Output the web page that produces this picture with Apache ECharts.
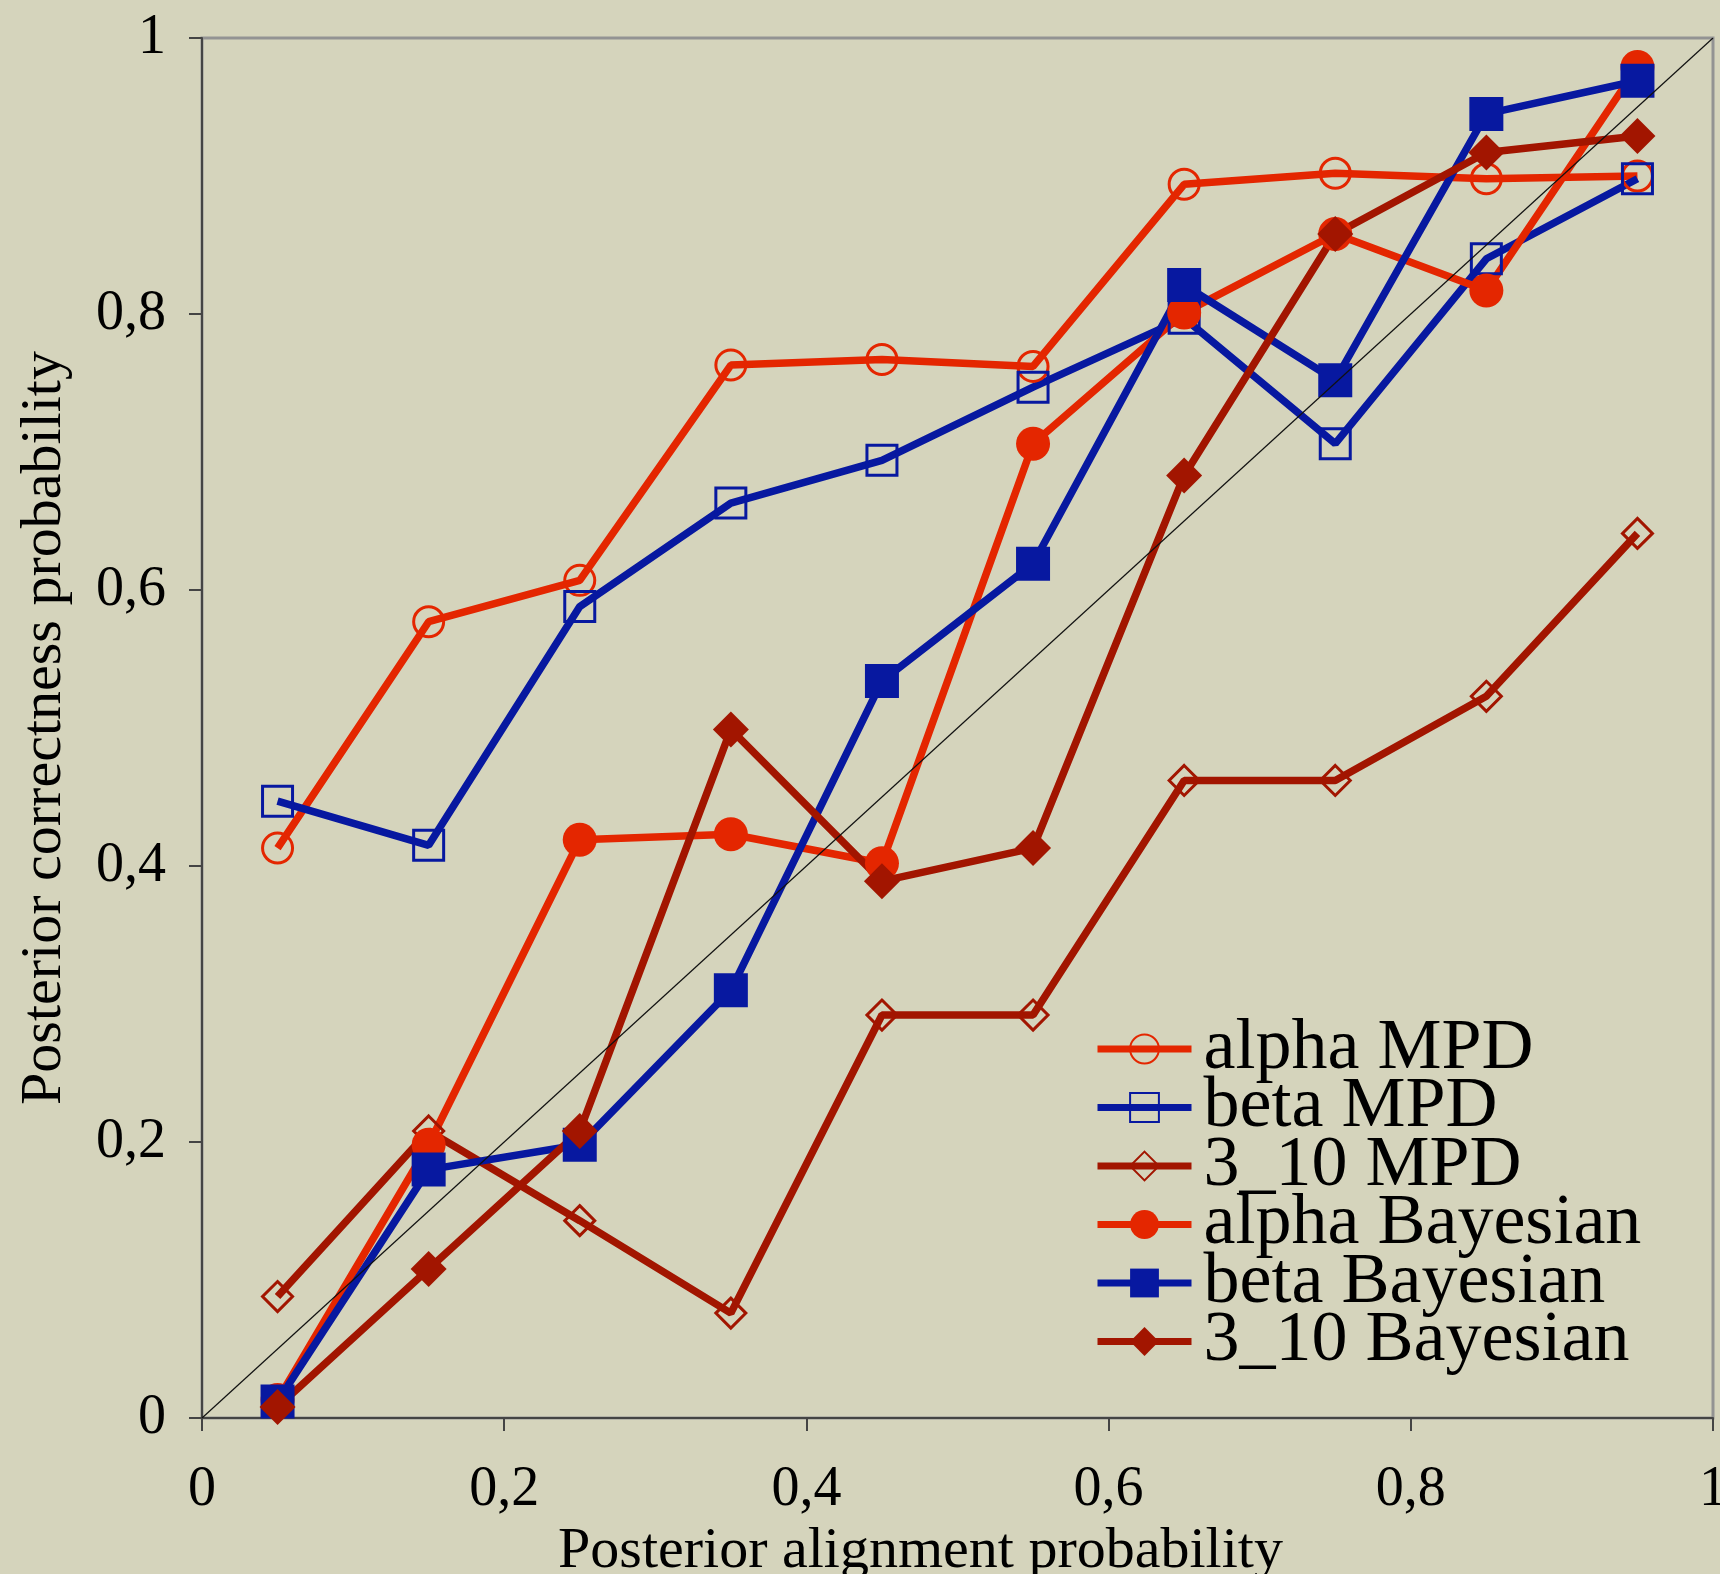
<!DOCTYPE html>
<html>
<head>
<meta charset="utf-8">
<script src="https://cdn.jsdelivr.net/npm/echarts@6/dist/echarts.min.js"></script>
<style>
html,body{margin:0;padding:0;background:#d5d4bc;}
#chart{width:1720px;height:1574px;}
</style>
</head>
<body>
<div id="chart"></div>
<script>
const xValues = [0.05, 0.15, 0.25, 0.35, 0.45, 0.55, 0.65, 0.75, 0.85, 0.95];
const alphaMPD = [0.413, 0.577, 0.607, 0.763, 0.767, 0.762, 0.894, 0.902, 0.898, 0.900];
const betaMPD = [0.447, 0.415, 0.588, 0.663, 0.694, 0.747, 0.797, 0.706, 0.840, 0.898];
const t310MPD = [0.088, 0.208, 0.143, 0.076, 0.292, 0.292, 0.462, 0.462, 0.523, 0.641];
const alphaBayes = [0.013, 0.198, 0.419, 0.423, 0.402, 0.706, 0.801, 0.858, 0.817, 0.979];
const betaBayes = [0.012, 0.180, 0.198, 0.310, 0.534, 0.619, 0.821, 0.752, 0.945, 0.969];
const t310Bayes = [0.008, 0.108, 0.208, 0.499, 0.389, 0.413, 0.683, 0.858, 0.917, 0.929];
const diagonalX = [0, 1];
const diagonalY = [0, 1];
const seriesNames = ['alpha MPD', 'beta MPD', '3_10 MPD', 'alpha Bayesian', 'beta Bayesian', '3_10 Bayesian'];
const tickValues = [0, 0.2, 0.4, 0.6, 0.8, 1];

const RED = '#e42600', BLUE = '#0718a0', DARK = '#a21500';
const FONT = '"Liberation Serif", "Times New Roman", serif';
const pairs = ys => xValues.map((x, i) => [x, ys[i]]);
const fmt = v => String(Math.round(v * 10) / 10).replace('.', ',');

function makeSeries(name, ys, color, symbol, size, open) {
  return {
    name, type: 'line', data: pairs(ys), symbol, symbolSize: size,
    showAllSymbol: true,
    lineStyle: { color, width: 7.5 },
    itemStyle: open ? { color: 'rgba(0,0,0,0)', borderColor: color, borderWidth: 3 } : { color, borderWidth: 0 },
    emphasis: { disabled: true }, silent: true, animation: false
  };
}

const chart = echarts.init(document.getElementById('chart'), null, { renderer: 'canvas' });
chart.setOption({
  backgroundColor: '#d5d4bc',
  animation: false,
  grid: { left: 202, top: 38, right: 7, bottom: 156, show: true, borderColor: '#939393', borderWidth: 3, backgroundColor: 'transparent', containLabel: false, outerBoundsMode: 'none' },
  xAxis: {
    type: 'value', min: 0, max: 1, interval: 0.2,
    name: 'Posterior alignment probability', nameLocation: 'middle', nameGap: 94,
    nameTextStyle: { fontFamily: FONT, fontSize: 58, color: '#000', padding: [0, 74, 0, 0] },
    axisLine: { show: true, lineStyle: { color: '#444', width: 2 } },
    axisTick: { show: true, inside: false, length: 13, lineStyle: { color: '#444', width: 2 } },
    axisLabel: { margin: 44, fontFamily: FONT, fontSize: 56, color: '#000', formatter: fmt, showMaxLabel: true, showMinLabel: true },
    splitLine: { show: false }
  },
  yAxis: {
    type: 'value', min: 0, max: 1, interval: 0.2,
    name: 'Posterior correctness probability', nameLocation: 'middle', nameGap: 128, nameRotate: 90,
    nameTextStyle: { fontFamily: FONT, fontSize: 58, color: '#000' },
    axisLine: { show: true, lineStyle: { color: '#444', width: 2 } },
    axisTick: { show: true, inside: false, length: 13, lineStyle: { color: '#444', width: 2 } },
    axisLabel: { margin: 36, fontFamily: FONT, fontSize: 56, color: '#000', formatter: fmt },
    splitLine: { show: false }
  },
  legend: {
    data: seriesNames, orient: 'vertical', left: 1094, top: 1013, padding: 0,
    itemWidth: 94, itemHeight: 36, itemGap: -13.5,
    lineStyle: { width: 7 },
    textStyle: { fontFamily: FONT, fontSize: 72, color: '#000', lineHeight: 58, padding: [0, 0, 0, 7] },
    selectedMode: false, backgroundColor: 'transparent'
  },
  series: [
    makeSeries(seriesNames[0], alphaMPD, RED, 'circle', 30, true),
    makeSeries(seriesNames[1], betaMPD, BLUE, 'rect', 30, true),
    makeSeries(seriesNames[2], t310MPD, DARK, 'diamond', 30, true),
    makeSeries(seriesNames[3], alphaBayes, RED, 'circle', 34, false),
    makeSeries(seriesNames[4], betaBayes, BLUE, 'rect', 34, false),
    makeSeries(seriesNames[5], t310Bayes, DARK, 'diamond', 36, false),
    {
      name: 'diagonal', type: 'line', data: diagonalX.map((x, i) => [x, diagonalY[i]]),
      symbol: 'none', lineStyle: { color: '#111', width: 1.2 }, z: 5,
      silent: true, animation: false, emphasis: { disabled: true }
    }
  ]
});
</script>
</body>
</html>
